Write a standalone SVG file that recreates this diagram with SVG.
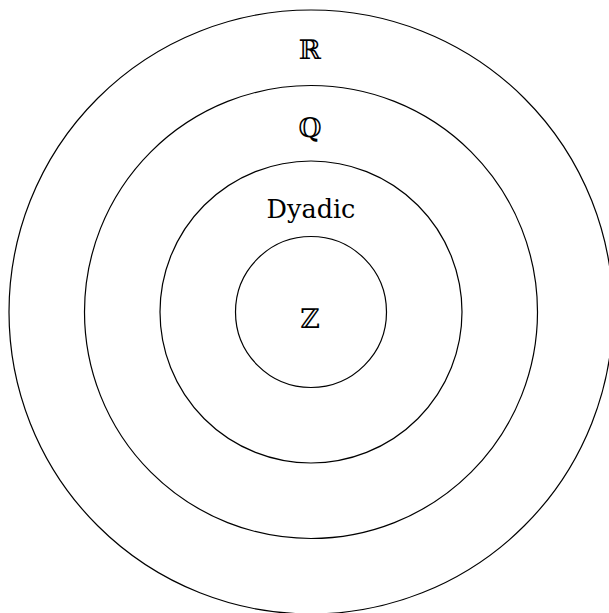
<svg xmlns="http://www.w3.org/2000/svg" width="609" height="613" viewBox="0 0 609 613">
<style>
.ring{fill:none;stroke:#000;stroke-width:1.2}
.lbl{font-size:27px;text-anchor:middle;fill:#000}
.word{font-size:25.5px;text-anchor:middle;fill:#000}
</style>
<rect width="609" height="613" fill="#fff"/>
<g id="R"><circle class="ring" cx="311" cy="312" r="302"/><text class="lbl" font-family="DejaVu Serif, serif" x="310" y="59">ℝ</text></g>
<g id="Q"><circle class="ring" cx="311" cy="312" r="226.5"/><text class="lbl" font-family="DejaVu Serif, serif" x="310" y="137">ℚ</text></g>
<g id="Dyadic"><circle class="ring" cx="311" cy="312" r="151"/><text class="word" font-family="DejaVu Serif, serif" x="311" y="218">Dyadic</text></g>
<g id="Z"><circle class="ring" cx="311" cy="312" r="75.5"/><text class="lbl" font-family="DejaVu Serif, serif" x="310" y="328">ℤ</text></g>
<g id="connectors"></g>
</svg>
